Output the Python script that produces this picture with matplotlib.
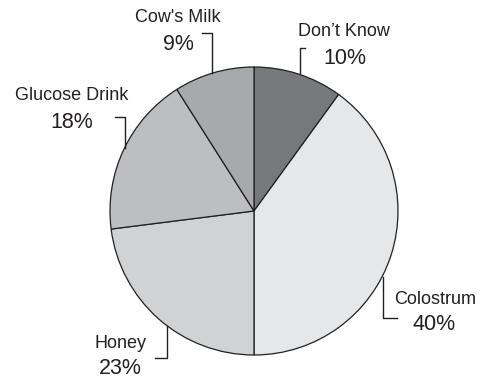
import numpy as np
import matplotlib.pyplot as plt

plt.rcParams['font.family'] = ['Liberation Sans', 'DejaVu Sans']

# slices clockwise from 12 o'clock
labels = ["Don\u2019t Know", "Colostrum", "Honey", "Glucose Drink", "Cow's Milk"]
shares = [10, 40, 23, 18, 9]
colors = ['#77787b', '#e6e7e8', '#d1d2d4', '#bcbec0', '#a7a9ac']

W, H = 480, 381
fig = plt.figure(figsize=(W / 100, H / 100), dpi=100)
ax = fig.add_axes([0, 0, 1, 1])

cx, cy, r = 254, H - 211, 144
ax.pie(shares, colors=colors, startangle=90, counterclock=False,
       center=(cx, cy), radius=r,
       wedgeprops=dict(edgecolor='#231f20', linewidth=0.9))

# label text centre, percent centre, leader polyline (pixel coords, y down)
layout = [
    ((344, 32), (345, 58), [(305, 48), (300, 48), (300, 73)]),
    ((435, 299), (434, 325), [(383, 277), (383, 318), (397, 318)]),
    ((120, 343), (120, 369), [(167, 326), (167, 358), (155, 358)]),
    ((72, 95), (72, 122), [(115, 117), (125, 117), (125, 148)]),
    ((178, 18), (178, 45), [(202, 33), (212, 33), (212, 73)]),
]

for name, val, (lp, pp, lead) in zip(labels, shares, layout):
    ax.text(lp[0], H - lp[1], name, ha='center', va='center',
            fontsize=13, color='#231f20')
    ax.text(pp[0], H - pp[1], f"{val}%", ha='center', va='center',
            fontsize=15.5, color='#231f20')
    xs = [p[0] for p in lead]
    ys = [H - p[1] for p in lead]
    ax.plot(xs, ys, color='#231f20', linewidth=1.0)

ax.set_xlim(0, W)
ax.set_ylim(0, H)
ax.set_aspect('equal')
ax.axis('off')

fig.savefig('out.png', dpi=100)
